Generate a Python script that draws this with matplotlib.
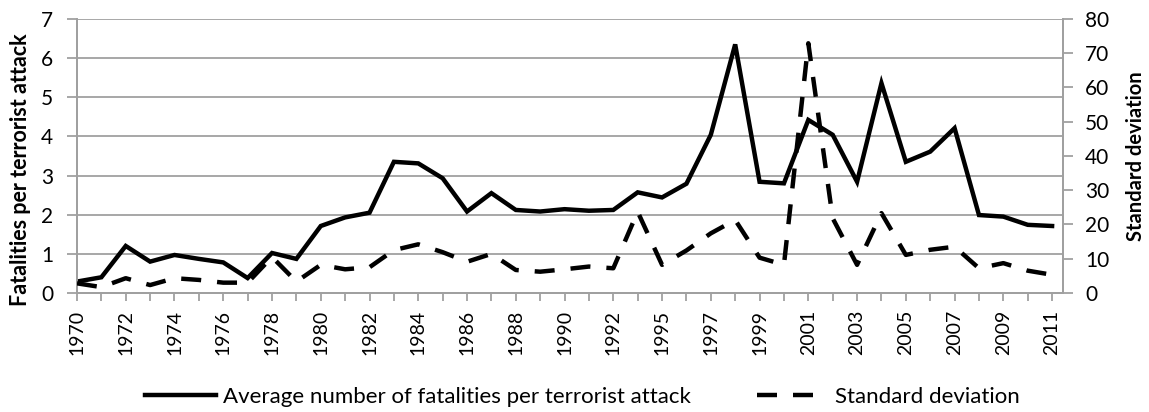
import numpy as np
import matplotlib.pyplot as plt

plt.rcParams['font.family'] = ['Lato', 'DejaVu Sans']

# 1993 is missing from the data
years = [str(y) for y in range(1970, 1993)] + [str(y) for y in range(1994, 2012)]

avg_fatalities = [0.29, 0.40, 1.20, 0.80, 0.97, 0.87, 0.78, 0.38, 1.02, 0.87,
                  1.71, 1.93, 2.05, 3.35, 3.31, 2.93, 2.08, 2.55, 2.12, 2.08,
                  2.14, 2.10, 2.12, 2.57, 2.44, 2.79, 4.04, 6.35, 2.84, 2.80,
                  4.42, 4.04, 2.84, 5.36, 3.35, 3.61, 4.21, 1.99, 1.95, 1.74,
                  1.71]

std_dev = [2.8, 1.7, 4.3, 2.3, 4.3, 3.8, 3.0, 3.0, 10.5, 3.3,
           8.2, 6.9, 7.5, 12.5, 14.2, 11.9, 9.1, 11.4, 6.7, 6.2,
           6.9, 7.7, 7.2, 23.7, 8.2, 12.4, 17.4, 21.3, 10.3, 8.2,
           72.9, 21.8, 8.2, 23.3, 11.1, 12.6, 13.5, 7.2, 8.7, 6.5,
           5.3]

label_main = 'Average number of fatalities per terrorist attack'
label_sd = 'Standard deviation'

x = np.arange(len(years))
grey = '#a0a0a0'

fig = plt.figure(figsize=(11.49, 4.12), dpi=100)
ax = fig.add_axes([0.067, 0.289, 0.858, 0.665])
ax2 = ax.twinx()

l1, = ax.plot(x, avg_fatalities, color='black', lw=3.2, solid_joinstyle='miter',
              label=label_main, zorder=3)
l2, = ax2.plot(x, std_dev, color='black', lw=3.2, dashes=(4.5, 3.6),
               dash_capstyle='butt', label=label_sd, zorder=3)

ax.set_xlim(0, 40.44)
ax.set_ylim(0, 7)
ax2.set_ylim(0, 80)
ax.set_yticks(range(0, 8))
ax2.set_yticks(range(0, 81, 10))

ax.set_xticks(x)
ax.set_xticklabels([y if i % 2 == 0 else '' for i, y in enumerate(years)],
                   rotation=90, fontsize=14)
ax.tick_params(axis='y', labelsize=15, length=7, width=1.3, color=grey, pad=10)
ax.tick_params(axis='x', length=6, width=1.3, color=grey, pad=6)
ax2.tick_params(axis='y', labelsize=15, length=7, width=1.3, color=grey, pad=9)

ax.grid(axis='y', color=grey, lw=1.3)
ax.set_axisbelow(True)
for a in (ax, ax2):
    a.spines['top'].set_visible(False)
    for s in ('left', 'right', 'bottom'):
        a.spines[s].set_color(grey)
        a.spines[s].set_linewidth(1.3)

ax.set_ylabel('Fatalities per terrorist attack', fontsize=15.5, fontweight='bold')
ax.yaxis.set_label_coords(-0.047, 0.45)
ax2.set_ylabel(label_sd, fontsize=14.5, fontweight='bold', labelpad=12)

fig.legend([l1, l2], [label_main, label_sd], loc='center',
           bbox_to_anchor=(0.507, 0.036), ncol=2, frameon=False, fontsize=16,
           handlelength=3.2, columnspacing=3.0, handletextpad=0.3)

fig.savefig('out.png', dpi=100)
